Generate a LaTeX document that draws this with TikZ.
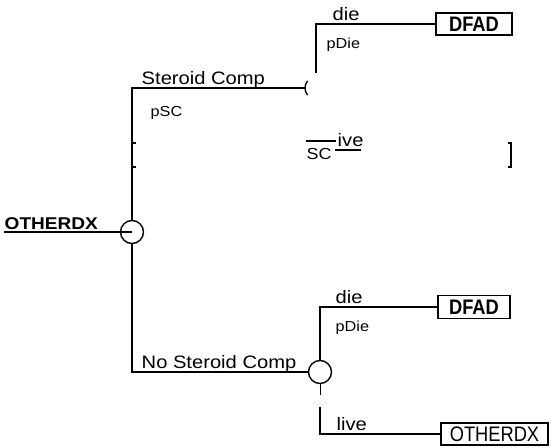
\documentclass[tikz,border=0pt]{standalone}
\usepackage{fontspec}
\setmainfont{Liberation Sans}[FakeStretch=1.12]
\newfontfamily\tallfont{Liberation Sans}[FakeStretch=0.87]
\usetikzlibrary{positioning}
\begin{document}
\begin{tikzpicture}[x=1pt, y=-1pt, line width=1.4pt,
    chance/.style={circle, draw, minimum size=23pt, inner sep=0pt},
    term/.style={draw, font=\tallfont\fontsize{21}{22}\selectfont\bfseries, inner sep=0pt, minimum height=22pt},
    brlab/.style={font=\fontsize{18}{19}\selectfont, inner sep=0pt, anchor=base west},
    prlab/.style={font=\fontsize{14.5}{15}\selectfont, inner sep=0pt, anchor=base west}]
    \useasboundingbox (0,0) rectangle (554,447);

    % Root decision node
    \node[chance] (root) at (132,232) {};
    \node[brlab, font=\fontsize{17}{18}\selectfont\bfseries] (rootlbl) at (4,229) {OTHERDX};
    \coordinate (rootin) at (4,232);
    \draw (rootin) -- (root.center);

    % Upper branch: chance node only partly printed
    \coordinate (chU) at (316,88);
    \coordinate (chUtop) at (316,73);
    \draw (root.north) |- ([xshift=-11pt]chU);
    \draw ([xshift=-8.43pt,yshift=7.07pt]chU) arc[start angle=140, end angle=220, radius=11pt];
    \node[brlab] (scU) at (141,84) {Steroid Comp};
    \node[prlab] (pscU) at (150,116) {pSC};

    % Upper die outcome
    \node[term, minimum width=76pt] (dfadU) at (474,24) {DFAD};
    \draw (chUtop) |- (dfadU.west);
    \node[brlab] (dieU) at (332,20) {die};
    \node[prlab] (pdieU) at (326,48) {pDie};

    % Remains of the upper live branch
    \draw (132,143) -- (136,143);
    \draw (132,167) -- (136,167);
    \draw (508,143) -- (511,143) -- (511,167) -- (508,167);
    \node[prlab, font=\fontsize{16}{17}\selectfont] (scbar) at (306,159) {SC};
    \draw (306,141) -- (336,141);
    \node[brlab] (liveU) at (337,146) {ive};
    \draw (335,150) -- (361,150);

    % Lower branch
    \node[chance] (chL) at (320,372) {};
    \draw (root.south) |- (chL.west);
    \node[brlab] (noscL) at (141,368) {No Steroid Comp};

    % Lower die outcome
    \node[term, minimum width=72pt, minimum height=23pt] (dfadL) at (474,307) {DFAD};
    \draw (chL.north) |- (dfadL.west);
    \node[brlab] (dieL) at (335,303) {die};
    \node[prlab] (pdieL) at (335,331) {pDie};

    % Lower live outcome
    \node[term, font=\tallfont\fontsize{21}{22}\selectfont, minimum width=107pt] (otherL) at (494.5,434) {OTHERDX};
    \coordinate (liveA) at (320,395);
    \coordinate (liveB) at (320,407);
    \draw[line width=0.9pt] (chL.south) -- (liveA);
    \draw (liveB) |- (otherL.west);
    \node[brlab] (liveL) at (336,430) {live};
\end{tikzpicture}
\end{document}
